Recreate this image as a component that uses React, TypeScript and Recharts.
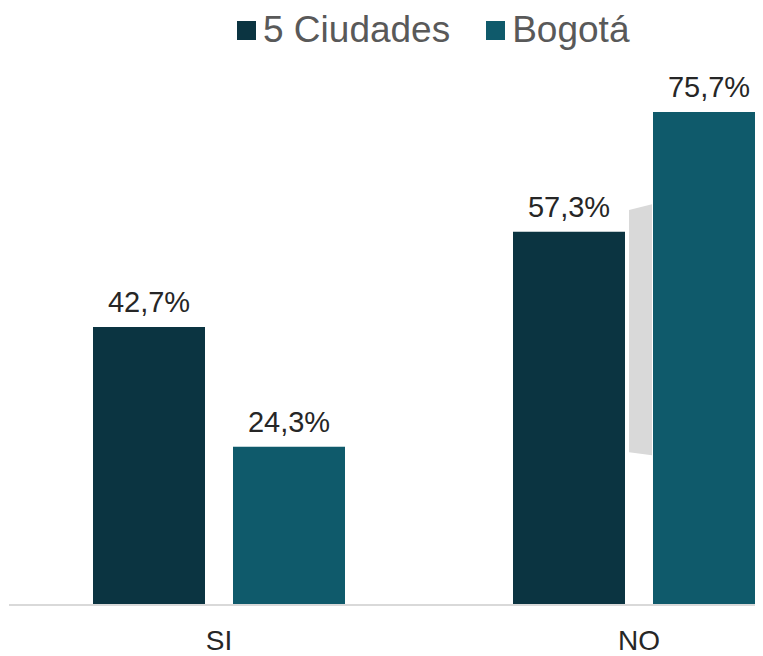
import { BarChart, Bar, XAxis, YAxis, LabelList } from "recharts";

const categories = ["SI", "NO"];
const ciudades = [42.7, 57.3];
const bogota = [24.3, 75.7];

const data = categories.map((c, i) => ({ name: c, ciudades: ciudades[i], bogota: bogota[i] }));

const DARK = "#0b3441";
const TEAL = "#0f5a6b";
const FONT = "Liberation Sans, Arial, sans-serif";

const fmt = (v: any) => `${Number(v).toFixed(1).replace(".", ",")}%`;

const legendItems = [
  { label: "5 Ciudades", color: DARK },
  { label: "Bogotá", color: TEAL },
];

function LegendBox() {
  return (
    <div style={{ position: "absolute", left: 229, top: 2, display: "flex", alignItems: "center", gap: 36 }}>
      {legendItems.map((it) => (
        <div key={it.label} style={{ display: "flex", alignItems: "center" }}>
          <span style={{ width: 19, height: 19, background: it.color, marginRight: 7, display: "inline-block" }} />
          <span style={{ fontSize: 37, color: "#595959", fontFamily: FONT, lineHeight: "40px" }}>{it.label}</span>
        </div>
      ))}
    </div>
  );
}

// bogotá bar with the grey connector drawn on its left side
function BogotaShape(props: any) {
  const { x, y, width, height, index, fill } = props;
  const bottom = y + height;
  return (
    <g>
      {index === 1 && (
        <polygon
          points={`${x - 24},${y + 0.199 * height} ${x - 1},${y + 0.187 * height} ${x - 1},${bottom - 0.304 * height} ${x - 24},${bottom - 0.31 * height}`}
          fill="#d9d9d9"
        />
      )}
      <rect x={x} y={y} width={width} height={height} fill={fill} />
    </g>
  );
}

export default function App() {
  return (
    <div style={{ position: "relative", width: 755, height: 648, overflow: "hidden" }}>
      <BarChart
        width={870}
        height={648}
        data={data}
        margin={{ top: 76, right: 29, left: 1, bottom: 0 }}
        barSize={112}
        barGap={28}
        barCategoryGap={84}
        style={{ fontFamily: FONT }}
      >
        <XAxis
          dataKey="name"
          height={51}
          tickLine={false}
          tickSize={0}
          tickMargin={25}
          axisLine={{ stroke: "#d9d9d9", strokeWidth: 2 }}
          tick={{ fill: "#262626", fontSize: 28 }}
        />
        <YAxis hide domain={[0, 80]} />
        <Bar dataKey="ciudades" fill={DARK} isAnimationActive={false}>
          <LabelList dataKey="ciudades" position="top" offset={15} formatter={fmt} fill="#262626" fontSize={29} />
        </Bar>
        <Bar dataKey="bogota" fill={TEAL} isAnimationActive={false} shape={<BogotaShape />}>
          <LabelList dataKey="bogota" position="top" offset={15} formatter={fmt} fill="#262626" fontSize={29} />
        </Bar>
      </BarChart>
      <LegendBox />
    </div>
  );
}
